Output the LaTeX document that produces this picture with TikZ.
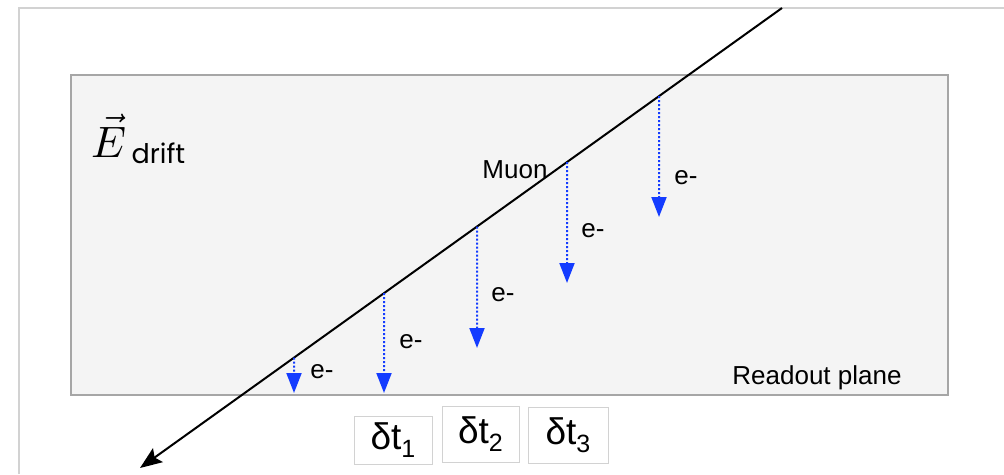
\documentclass[tikz,border=0pt]{standalone}
\usepackage{fontspec}
\setmainfont{Liberation Sans}
\newfontfamily\geofont{Poppins}
\usetikzlibrary{arrows.meta,calc}
\definecolor{driftblue}{RGB}{20,60,255}
\definecolor{chamberfill}{RGB}{244,244,244}
\newcommand{\dtsub}[1]{δt\raisebox{-8pt}{\fontsize{25}{25}\selectfont #1}}

\begin{document}
\begin{tikzpicture}[x=1pt, y=-1pt,
    drift/.style={driftblue, line width=2pt, dotted, -{Triangle[length=20pt, width=15pt]}},
    elabel/.style={font=\fontsize{26}{26}\selectfont, inner sep=0pt},
    dtbox/.style={draw=gray!35, line width=1pt, fill=white, inner sep=0pt, font=\fontsize{37}{37}\selectfont}]
    \useasboundingbox (0,0) rectangle (1004,474);

    % Frame
    \draw[gray!35, line width=1.5pt] (19,474) -- (19,8) -- (1004,8);

    % Drift volume
    \node[draw=gray!70, fill=chamberfill, line width=1.5pt, minimum width=877pt, minimum height=320pt, inner sep=0pt] (chamber) at (509.5,235) {};
    \node[inner sep=0pt, anchor=base west] (efield) at (91,157) {\scalebox{4.4}{$\vec{E}$}};
    \node[font=\geofont\fontsize{27}{27}\selectfont, inner sep=0pt, anchor=base west] (driftlabel) at ([shift={(5,6)}]efield.base east) {drift};

    % Muon track
    \coordinate (muontop) at (782,8);
    \coordinate (muonend) at (140,468);
    \draw[line width=2pt, -{Stealth[length=22pt, width=17pt, inset=4pt]}] (muontop) -- (muonend);
    \node[elabel] (muonlabel) at (515,170) {Muon};

    % Drifting electrons
    \foreach \i/\x/\ye/\lx/\ly in {1/294/393/322/372, 2/384/393/411/342, 3/477/348/503/295, 4/567/283/593/231, 5/659/217/686/178} {
        \coordinate (start\i) at ($(muontop)!{(782-\x)/642}!(muonend)$);
        \coordinate (tip\i) at (\x,\ye);
        \draw[drift] (start\i) -- (tip\i);
        \node[elabel] (elec\i) at (\lx,\ly) {e-};
    }

    \node[elabel] (readout) at (817,378) {Readout plane};

    % Drift times
    \node[dtbox, minimum width=78pt, minimum height=48pt] (dt1) at (393,440) {\dtsub{1}};
    \node[dtbox, minimum width=77pt, minimum height=56pt] (dt2) at (480.5,434) {\dtsub{2}};
    \node[dtbox, minimum width=80pt, minimum height=56pt] (dt3) at (568,435) {\dtsub{3}};
\end{tikzpicture}
\end{document}
